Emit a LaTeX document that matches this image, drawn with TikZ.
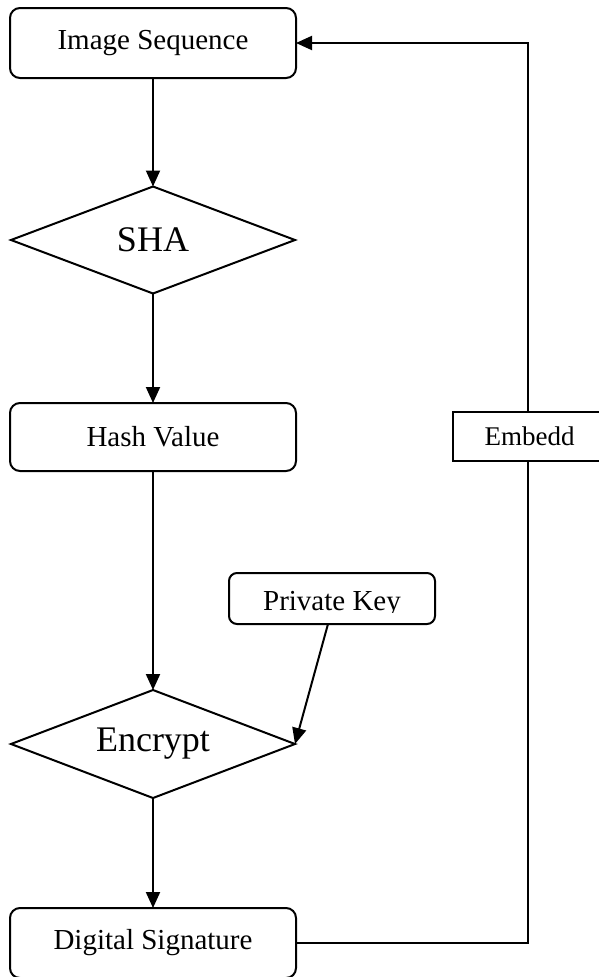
\documentclass[tikz,border=0pt]{standalone}
\usepackage{fontspec}
\setmainfont{Liberation Serif}
\usetikzlibrary{shapes.geometric,arrows.meta,calc}

\begin{document}
\begin{tikzpicture}[x=1pt,y=-1pt,
  line width=2pt,
  every node/.style={inner sep=0pt, outer sep=0pt},
  txt/.style={font=\fontsize{29}{29}\selectfont},
  bigtxt/.style={font=\fontsize{36}{36}\selectfont},
  roundbox/.style={draw, rounded corners=10pt, minimum width=286pt, minimum height=70pt, txt},
  plainbox/.style={draw, minimum width=150pt, minimum height=49pt, font=\fontsize{27}{27}\selectfont},
  decision/.style={draw, diamond, minimum width=284pt, minimum height=107pt, aspect=2.65, bigtxt},
  flow/.style={-{Triangle[length=16pt,width=14pt]}},
]
\useasboundingbox (0,0) rectangle (599,977);

% main column
\node[roundbox] (img) at (153,43) {Image Sequence};
\node[decision] (sha) at (153,240) {SHA};
\node[roundbox, minimum height=68pt] (hash) at (153,437) {Hash Value};
\node[decision, minimum width=284pt, minimum height=108pt] (enc) at (153,744) {Encrypt};
\node[roundbox] (sig) at (153,943) {Digital Signature};

% key input (its label is cut off at the bottom)
\node[draw, rounded corners=8pt, minimum width=206pt, minimum height=51pt] (pk) at (332,598.5) {};
\begin{scope}
  \clip (229,573) rectangle (435,612);
  \node[txt, anchor=base] (pktext) at (332,610) {Private Key};
\end{scope}

% feedback path box
\node[plainbox] (emb) at (528,436.5) {\hspace*{3pt}Embedd};

% connectors
\draw[flow] (img.south) -- (sha.north);
\draw[flow] (sha.south) -- (hash.north);
\draw[flow] (hash.south) -- (enc.north);
\draw[flow] ($(pk.south)+(-4,0)$) -- (enc.east);
\draw[flow] (enc.south) -- (sig.north);
\draw (sig.east) -- (emb.south |- sig.east) -- (emb.south);
\draw[flow] (emb.north) -- (emb.north |- img.east) -- (img.east);
\end{tikzpicture}
\end{document}
